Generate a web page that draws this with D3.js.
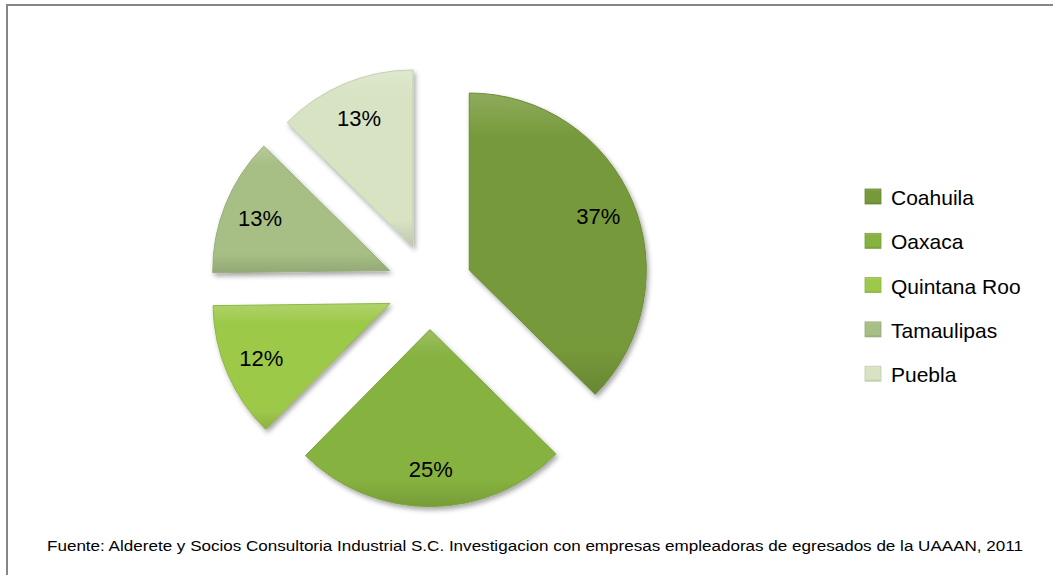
<!DOCTYPE html>
<html><head><meta charset="utf-8">
<script src="https://cdn.jsdelivr.net/npm/d3@7"></script>
<style>body{margin:0;background:#fff;overflow:hidden}</style>
</head><body>
<svg id="chart" width="1053" height="575"></svg>
<script>
const categories = ["Coahuila", "Oaxaca", "Quintana Roo", "Tamaulipas", "Puebla"];
const values = [37.4, 25.0, 12.4, 12.6, 12.6];
const colors = ["#76993a", "#86b23f", "#9dc94a", "#a7be85", "#d7e3c3"];
const sourceText = "Fuente: Alderete y Socios Consultoria Industrial S.C. Investigacion con empresas empleadoras de  egresados de la UAAAN, 2011";

const svg = d3.select("#chart");
const W = 1053, H = 575;
const cx = 429.6, cy = 286.6, R = 177, explode = 43;

// frame
svg.append("rect").attr("x", 7).attr("y", 5).attr("width", W + 20).attr("height", H + 20)
  .attr("fill", "#fff").attr("stroke", "#868686").attr("stroke-width", 2);

const defs = svg.append("defs");
const shadow = defs.append("filter").attr("id", "sh").attr("x", "-20%").attr("y", "-20%").attr("width", "140%").attr("height", "140%");
shadow.append("feDropShadow").attr("dx", 2).attr("dy", 3).attr("stdDeviation", 2.5)
  .attr("flood-color", "#000").attr("flood-opacity", 0.35);

colors.forEach((c, i) => {
  const g = defs.append("linearGradient").attr("id", "g" + i)
    .attr("x1", 0).attr("y1", 0).attr("x2", 0).attr("y2", 1);
  g.append("stop").attr("offset", "0%").attr("stop-color", d3.interpolateRgb(c, "#ffffff")(0.18));
  g.append("stop").attr("offset", "15%").attr("stop-color", c);
  g.append("stop").attr("offset", "85%").attr("stop-color", c);
  g.append("stop").attr("offset", "100%").attr("stop-color", d3.color(c).darker(0.35));
});

const pie = d3.pie().sort(null).value(d => d);
const arcs = pie(values);
const arc = d3.arc().innerRadius(0).outerRadius(R);
const labelArc = d3.arc().innerRadius(R * 0.79).outerRadius(R * 0.79);
const fmt = d3.format(".0%");
const total = d3.sum(values);

const gPie = svg.append("g").attr("transform", `translate(${cx},${cy})`);
const slices = gPie.selectAll("g.slice").data(arcs).enter().append("g")
  .attr("class", "slice")
  .attr("transform", d => {
    const m = (d.startAngle + d.endAngle) / 2;
    return `translate(${Math.sin(m) * explode},${-Math.cos(m) * explode})`;
  });
slices.append("path").attr("d", arc)
  .attr("fill", (d, i) => `url(#g${i})`)
  .attr("stroke", (d, i) => d3.color(colors[i]).darker(0.25))
  .attr("stroke-width", 1)
  .attr("filter", "url(#sh)");
slices.append("text")
  .attr("transform", d => `translate(${labelArc.centroid(d)})`)
  .attr("text-anchor", "middle").attr("dy", "0.36em")
  .attr("font-family", "Liberation Sans, Arial, sans-serif").attr("font-size", 22)
  .attr("fill", "#000")
  .text(d => fmt(d.data / total));

// legend
const legend = svg.append("g").attr("transform", "translate(865,189)");
const items = legend.selectAll("g").data(categories).enter().append("g")
  .attr("transform", (d, i) => `translate(0,${i * 44.3})`);
items.append("rect").attr("width", 16).attr("height", 15)
  .attr("fill", (d, i) => `url(#g${i})`)
  .attr("stroke", (d, i) => d3.color(colors[i]).darker(0.3)).attr("stroke-width", 0.8);
items.append("text").attr("x", 26).attr("y", 16)
  .attr("font-family", "Liberation Sans, Arial, sans-serif").attr("font-size", 21)
  .attr("fill", "#000").text(d => d);

// source
svg.append("text").attr("x", 47).attr("y", 551)
  .attr("font-family", "Liberation Sans Narrow, Liberation Sans, Arial, sans-serif")
  .attr("font-size", 14).attr("fill", "#000")
  .attr("textLength", 976).attr("lengthAdjust", "spacingAndGlyphs")
  .text(sourceText);
</script>
</body></html>
